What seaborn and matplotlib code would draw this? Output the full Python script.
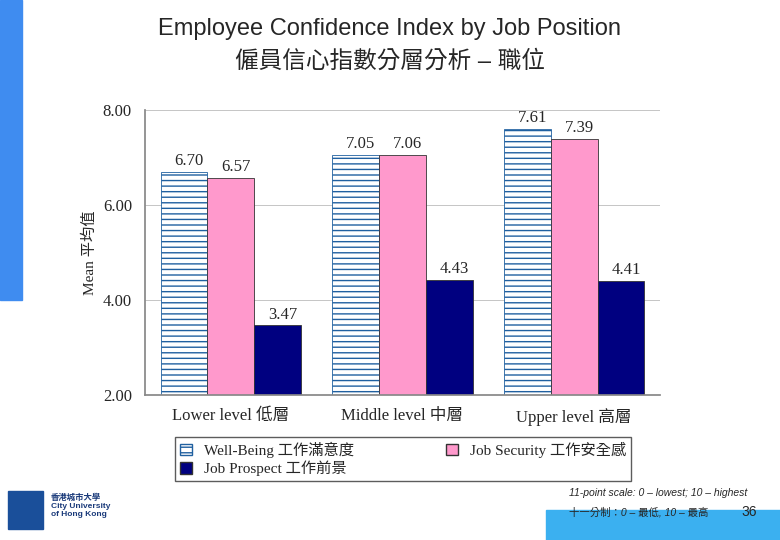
import pandas as pd
import seaborn as sns
import matplotlib.pyplot as plt
from matplotlib.patches import Rectangle

levels = ['Lower level 低層', 'Middle level 中層', 'Upper level 高層']
series = ['Well-Being 工作滿意度', 'Job Security 工作安全感', 'Job Prospect 工作前景']
well_being = [6.70, 7.05, 7.61]
job_security = [6.57, 7.06, 7.39]
job_prospect = [3.47, 4.43, 4.41]

rows = []
for i, lv in enumerate(levels):
    rows.append((lv, series[0], well_being[i]))
    rows.append((lv, series[1], job_security[i]))
    rows.append((lv, series[2], job_prospect[i]))
df = pd.DataFrame(rows, columns=['level', 'series', 'value'])

sns.set_theme(style='white')
serif = ['Liberation Serif', 'Noto Sans CJK TC']
sans = ['Liberation Sans', 'Noto Sans CJK TC']
plt.rcParams['font.family'] = serif

fig = plt.figure(figsize=(7.8, 5.4), dpi=100)
fig.patches.append(Rectangle((0, 0.445), 0.028, 0.555, transform=fig.transFigure, color='#3f8cf0', zorder=0))
fig.patches.append(Rectangle((0.70, 0), 0.30, 0.055, transform=fig.transFigure, color='#3bb0f0', zorder=0))

ax = fig.add_axes([0.186, 0.268, 0.66, 0.528])
colors = ['#d0e4f0', '#ff99cc', '#000080']
sns.barplot(data=df, x='level', y='value', hue='series', palette=colors, saturation=1,
            width=0.82, edgecolor='#333333', linewidth=0.6, ax=ax, legend=False)
# horizontal stripes on the Well-Being bars
for bar in ax.containers[0]:
    bar.set_hatch('---')
    bar.set_edgecolor('#2060a0')
    bar.set_facecolor('white')
for c in ax.containers:
    for bar in c:
        h = bar.get_height()
        ax.text(bar.get_x() + bar.get_width() * 0.3, h + 0.06, f'{h:.2f}',
                ha='left', va='bottom', fontsize=12, family=serif)

ax.set_ylim(2, 8)
ax.set_yticks([2, 4, 6, 8])
ax.set_yticklabels(['2.00', '4.00', '6.00', '8.00'], fontsize=12)
ax.yaxis.grid(True, color='#bbbbbb', linewidth=0.6)
ax.set_axisbelow(True)
ax.set_xlabel('')
ax.set_ylabel('Mean 平均值', fontsize=11)
ax.tick_params(axis='x', labelsize=12)
for s in ['top', 'right']:
    ax.spines[s].set_visible(False)
ax.spines['left'].set_color('#888888')
ax.spines['bottom'].set_color('#888888')

handles = [Rectangle((0, 0), 1, 1, facecolor='white', edgecolor='#2060a0', hatch='---'),
           Rectangle((0, 0), 1, 1, facecolor=colors[2], edgecolor='#333333'),
           Rectangle((0, 0), 1, 1, facecolor=colors[1], edgecolor='#333333')]
leg = fig.legend(handles, [series[0], series[2], series[1]],
                 loc='upper left', bbox_to_anchor=(0.215, 0.205), ncol=2,
                 fontsize=11, frameon=True, handlelength=0.8, handleheight=0.8,
                 columnspacing=6, borderpad=0.3, labelspacing=0.2, fancybox=False)
leg.get_frame().set_edgecolor('#333333')

fig.text(0.5, 0.935, 'Employee Confidence Index by Job Position', ha='center', fontsize=17, family=sans)
fig.text(0.5, 0.875, '僱員信心指數分層分析 – 職位', ha='center', fontsize=17, family=sans)
fig.text(0.73, 0.082, '11-point scale: 0 – lowest; 10 – highest', fontsize=7.5, style='italic', family=sans)
fig.text(0.73, 0.045, '十一分制：0 – 最低, 10 – 最高', fontsize=7.5, style='italic', family=sans)
fig.text(0.97, 0.045, '36', fontsize=10, ha='right', family=sans)
fig.text(0.065, 0.045, '香港城市大學\nCity University\nof Hong Kong', fontsize=6, color='#1a3a7a',
         family=sans, fontweight='bold', linespacing=1.2)
fig.patches.append(Rectangle((0.01, 0.02), 0.045, 0.07, transform=fig.transFigure, color='#1a4f9a'))

fig.savefig('out.png', dpi=100)
